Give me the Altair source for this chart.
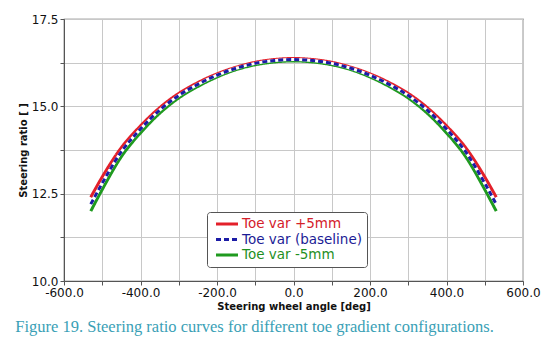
import altair as alt
import pandas as pd

angles = [-530, -500, -450, -400, -350, -300, -250, -200, -150, -100, -50, 0,
          50, 100, 150, 200, 250, 300, 350, 400, 450, 500, 530]
toe_plus5 = [12.40, 12.98, 13.82, 14.44, 14.96, 15.37, 15.68, 15.93, 16.12, 16.26, 16.34, 16.37,
             16.34, 16.26, 16.12, 15.93, 15.68, 15.37, 14.96, 14.44, 13.82, 12.98, 12.40]
toe_base = [12.20, 12.80, 13.70, 14.35, 14.89, 15.31, 15.63, 15.89, 16.09, 16.23, 16.31, 16.34,
            16.31, 16.23, 16.09, 15.89, 15.63, 15.31, 14.89, 14.35, 13.70, 12.80, 12.20]
toe_minus5 = [12.00, 12.62, 13.56, 14.24, 14.80, 15.24, 15.57, 15.84, 16.05, 16.19, 16.27, 16.30,
              16.27, 16.19, 16.05, 15.84, 15.57, 15.24, 14.80, 14.24, 13.56, 12.62, 12.00]

series_names = ["Toe var +5mm", "Toe var (baseline)", "Toe var -5mm"]
series_colors = ["#e3202a", "#1c1ca6", "#1f9a1f"]
series_dash = [[1, 0], [5, 3], [1, 0]]

x_ticks = [-600, -500, -400, -300, -200, -100, 0, 100, 200, 300, 400, 500, 600]
y_ticks = [10.0, 11.25, 12.5, 13.75, 15.0, 16.25, 17.5]

rows = []
for name, vals in zip(series_names, [toe_plus5, toe_base, toe_minus5]):
    for a, v in zip(angles, vals):
        rows.append({"angle": a, "ratio": v, "series": name})
df = pd.DataFrame(rows)

font = "DejaVu Sans"
label_color_expr = ("datum.value == 'Toe var +5mm' ? '#d4202a' : "
                    "datum.value == 'Toe var -5mm' ? '#1f8f1f' : '#1c1c96'")

x_enc = alt.X("angle:Q", scale=alt.Scale(domain=[-600, 600], nice=False, zero=False),
              axis=alt.Axis(values=x_ticks, title="Steering wheel angle [deg]",
                            labelExpr="datum.value % 200 == 0 ? (datum.value < 0 ? '-' : '') + format(abs(datum.value), '.1f') : ''"))
y_enc = alt.Y("ratio:Q", scale=alt.Scale(domain=[10, 17.5], nice=False, zero=False),
              axis=alt.Axis(values=y_ticks, title="Steering ratio [ ]",
                            labelExpr="datum.value % 2.5 == 0 ? format(datum.value, '.1f') : ''"))


def make_legend():
    return alt.Legend(title=None, orient="none", legendX=143, legendY=193,
                      symbolType="M-2,0H2", symbolStrokeWidth=3, symbolSize=121,
                      symbolOffset=8, labelOffset=8,
                      labelFont=font, labelFontSize=13.5,
                      labelColor={"expr": label_color_expr},
                      strokeColor="#555555", fillColor="white", padding=5,
                      cornerRadius=3, rowPadding=1.5)


color_enc = alt.Color("series:N", scale=alt.Scale(domain=series_names, range=series_colors),
                      legend=make_legend())
dash_enc = alt.StrokeDash("series:N", scale=alt.Scale(domain=series_names, range=series_dash),
                          legend=make_legend())

base = alt.Chart(df)


def line_layer(name):
    return base.transform_filter(alt.datum.series == name).mark_line(
        strokeWidth=3, interpolate="monotone").encode(x=x_enc, y=y_enc, color=color_enc, strokeDash=dash_enc)


green = line_layer("Toe var -5mm")
red = line_layer("Toe var +5mm")
white = base.transform_filter(alt.datum.series == "Toe var (baseline)").mark_line(
    strokeWidth=3, interpolate="monotone", color="white").encode(x=x_enc, y=y_enc)
blue = line_layer("Toe var (baseline)")

chart = alt.layer(green, red, white, blue).properties(
    width=459, height=262,
    title=alt.TitleParams(
        "Figure 19. Steering ratio curves for different toe gradient configurations.",
        orient="bottom", anchor="start", dx=-3, offset=8,
        font="Liberation Serif", fontSize=16.5, fontWeight="normal", color="#3a9fb6"),
    autosize=alt.AutoSizeParams(type="none"),
    padding={"left": 64, "top": 19, "right": 26, "bottom": 63},
).configure_view(stroke="#555555", strokeWidth=1.2).configure_axis(
    labelFont=font, labelFontSize=12, labelColor="#111111",
    titleFont=font, titleFontSize=10, titleFontWeight="bold", titleColor="#111111",
    gridColor="#c8c8c8", gridWidth=1, domainColor="#555555", tickColor="#555555",
    tickSize=4, labelPadding=2, labelFlush=False, labelOverlap=False,
).configure_axisX(titlePadding=3).configure_axisY(titlePadding=3)

chart.save("out.html", embed_options={"renderer": "svg", "actions": False})
